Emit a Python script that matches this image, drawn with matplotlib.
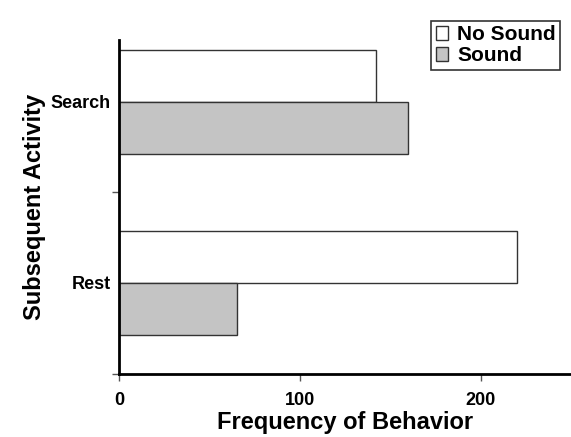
import matplotlib.pyplot as plt
import numpy as np

plt.rcParams['font.family'] = ['Liberation Sans', 'DejaVu Sans']
plt.rcParams['font.weight'] = 'bold'

categories = ['Rest', 'Search']
no_sound = [220, 142]
sound = [65, 160]
xticks = [0, 100, 200]

fig = plt.figure(figsize=(5.71, 4.37), dpi=100)
ax = fig.add_axes([0.2084, 0.144, 0.7916, 0.7645])

y = np.arange(len(categories))
h = 0.285
ax.barh(y + h / 2, no_sound, height=h, color='white', edgecolor='#333333', linewidth=1.0, label='No Sound')
ax.barh(y - h / 2, sound, height=h, color='#c4c4c4', edgecolor='#333333', linewidth=1.0, label='Sound')

ax.set_xlim(0, 250)
ax.set_ylim(-0.503, 1.342)

ax.set_xticks(xticks)
ax.set_xticklabels([str(v) for v in xticks], fontsize=13, fontweight='bold')
ax.set_yticks([-0.5, 0.5])
ax.set_yticklabels([])
ax.set_yticks(y, minor=True)
ax.set_yticklabels(categories, minor=True, fontsize=13, fontweight='bold')
ax.tick_params(axis='y', which='minor', length=0, pad=6)
ax.tick_params(axis='both', which='major', length=5, width=1, color='#555555', direction='out')
ax.tick_params(axis='x', pad=8)

for s in ['top', 'right']:
    ax.spines[s].set_visible(False)
for s in ['left', 'bottom']:
    ax.spines[s].set_linewidth(2)

ax.set_xlabel('Frequency of Behavior', fontsize=17, fontweight='bold', labelpad=1)
ax.set_ylabel('Subsequent Activity', fontsize=17, fontweight='bold', labelpad=3)

leg = ax.legend(loc='upper right', bbox_to_anchor=(0.99, 1.075), fontsize=15,
                handlelength=0.6, handleheight=0.6, handletextpad=0.45,
                borderpad=0.2, borderaxespad=0.3, labelspacing=0.1, fancybox=False, framealpha=1)
leg.get_frame().set_edgecolor('#333333')
leg.get_frame().set_linewidth(1.2)

fig.savefig('out.png', dpi=100)
